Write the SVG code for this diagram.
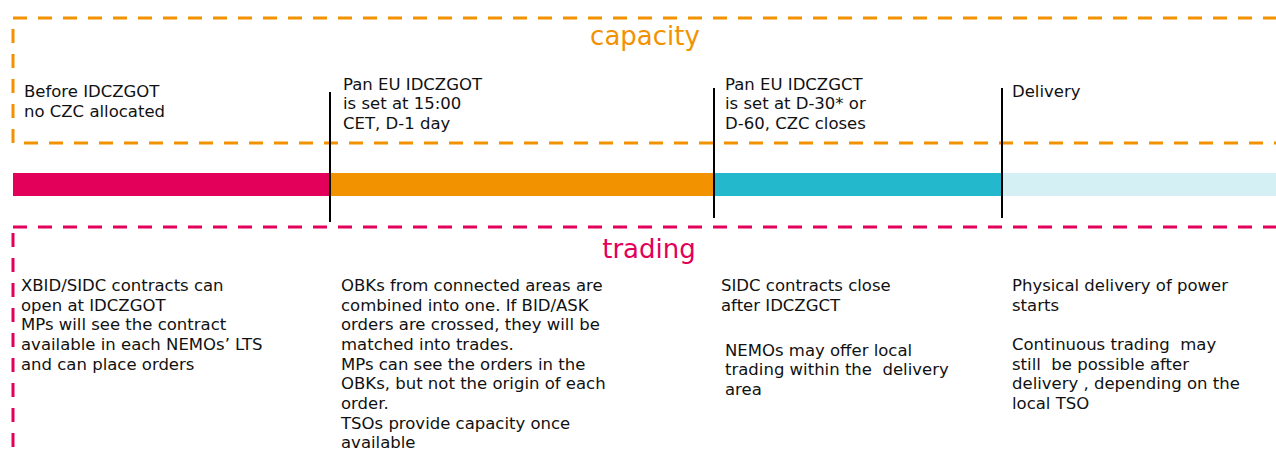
<svg xmlns="http://www.w3.org/2000/svg" width="1276" height="450" viewBox="0 0 1276 450">
<style>
.t{font-family:"DejaVu Sans","Liberation Sans",sans-serif;font-size:16.5px;fill:#111;white-space:pre}
.h{font-family:"DejaVu Sans","Liberation Sans",sans-serif;font-size:26px}
.box{fill:none;stroke-width:3;stroke-dasharray:14 11}
.tick{stroke:#000;stroke-width:2}
</style>
<rect width="1276" height="450" fill="#fff"/>
<g id="capacity">
<rect class="box" x="13" y="18" width="1300" height="125" stroke="#F39200"/>
<text class="h" x="645" y="45" text-anchor="middle" fill="#F39200">capacity</text>
</g>
<g id="trading">
<rect class="box" x="13" y="227" width="1300" height="260" stroke="#E2005A"/>
<text class="h" x="649" y="258" text-anchor="middle" fill="#E2005A">trading</text>
</g>
<g id="bar">
<rect x="13" y="173" width="317" height="23" fill="#E2005A"/>
<rect x="330" y="173" width="384" height="23" fill="#F39200"/>
<rect x="714" y="173" width="288" height="23" fill="#24B8CC"/>
<rect x="1002" y="173" width="274" height="23" fill="#D4F0F5"/>
</g>
<g id="connectors">
<line class="tick" x1="330" y1="92" x2="330" y2="222"/>
<line class="tick" x1="714" y1="88" x2="714" y2="218"/>
<line class="tick" x1="1002" y1="88" x2="1002" y2="218"/>
</g>
<g id="phase1">
<text class="t" x="24" y="97">Before IDCZGOT</text>
<text class="t" x="24" y="117">no CZC allocated</text>
<text class="t" x="21" y="291">XBID/SIDC contracts can</text>
<text class="t" x="21" y="311">open at IDCZGOT</text>
<text class="t" x="21" y="330">MPs will see the contract</text>
<text class="t" x="21" y="350">available in each NEMOs’ LTS</text>
<text class="t" x="21" y="370">and can place orders</text>
</g>
<g id="phase2">
<text class="t" x="343" y="90">Pan EU IDCZGOT</text>
<text class="t" x="343" y="109">is set at 15:00</text>
<text class="t" x="343" y="129">CET, D-1 day</text>
<text class="t" x="341" y="291">OBKs from connected areas are</text>
<text class="t" x="341" y="311">combined into one. If BID/ASK</text>
<text class="t" x="341" y="330">orders are crossed, they will be</text>
<text class="t" x="341" y="350">matched into trades.</text>
<text class="t" x="341" y="370">MPs can see the orders in the</text>
<text class="t" x="341" y="389">OBKs, but not the origin of each</text>
<text class="t" x="341" y="409">order.</text>
<text class="t" x="341" y="429">TSOs provide capacity once</text>
<text class="t" x="341" y="448">available</text>
</g>
<g id="phase3">
<text class="t" x="725" y="90">Pan EU IDCZGCT</text>
<text class="t" x="725" y="109">is set at D-30* or</text>
<text class="t" x="725" y="129">D-60, CZC closes</text>
<text class="t" x="721" y="291">SIDC contracts close</text>
<text class="t" x="721" y="311">after IDCZGCT</text>
<text class="t" x="725" y="356">NEMOs may offer local</text>
<text class="t" x="725" y="375" xml:space="preserve">trading within the  delivery</text>
<text class="t" x="725" y="395">area</text>
</g>
<g id="phase4">
<text class="t" x="1012" y="97">Delivery</text>
<text class="t" x="1012" y="291">Physical delivery of power</text>
<text class="t" x="1012" y="311">starts</text>
<text class="t" x="1012" y="350" xml:space="preserve">Continuous trading  may</text>
<text class="t" x="1012" y="370" xml:space="preserve">still  be possible after</text>
<text class="t" x="1012" y="389">delivery , depending on the</text>
<text class="t" x="1012" y="409">local TSO</text>
</g>
</svg>
